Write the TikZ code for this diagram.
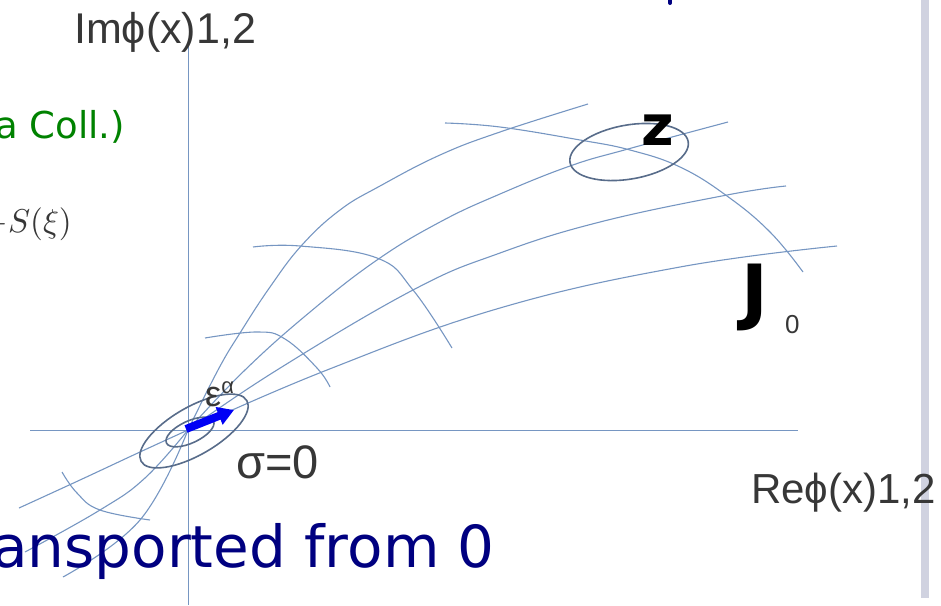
\documentclass[tikz,border=0pt]{standalone}
\usepackage{amsmath,amssymb}
\usepackage{graphicx}
\usepackage{fontspec}
\usepackage{tikz}
\usetikzlibrary{calc}
\usetikzlibrary{arrows.meta}

\newfontfamily\axisfont{Liberation Sans}
\newfontfamily\comicfont{DejaVu Sans}

\definecolor{flowblue}{RGB}{118,150,194}
\definecolor{ringgray}{RGB}{88,108,138}
\definecolor{labelgray}{RGB}{55,55,55}
\definecolor{collgreen}{RGB}{0,130,0}
\definecolor{titlenavy}{RGB}{0,0,128}
\definecolor{arrowblue}{RGB}{0,0,245}
\definecolor{edgebar}{RGB}{208,210,224}

\begin{document}
\begin{tikzpicture}[x = 1pt, y = -1pt]

\tikzstyle{flow}=[color=flowblue, line width = 1.1pt]
\tikzstyle{axis_line}=[color=flowblue, line width = 1pt]
\tikzstyle{ring}=[color=ringgray, line width = 1.6pt]
\tikzstyle{axis_label}=[inner sep = 0pt, text=labelgray]
\tikzstyle{hand_label}=[inner sep = 0pt, text=black, font=\comicfont\bfseries]

\useasboundingbox (0, 0) rectangle (941, 605);
\clip (0, 0) rectangle (941, 605);

\coordinate (O) at (188, 430);
\coordinate (re0) at (30, 430);
\coordinate (re1) at (798, 430);
\coordinate (im0) at (188, 40);
\coordinate (im1) at (188, 605);
\coordinate (outer) at (194, 431);
\coordinate (inner) at (190, 432);
\coordinate (zc) at (629, 152);
\coordinate (eps0) at (186, 429);
\coordinate (eps1) at (234, 410);

%axes
\draw[axis_line] (re0) -- (re1);
\draw[axis_line] (im0) -- (im1);

%flow lines, upper right
\draw[flow] plot[smooth, tension = 0.7] coordinates {(188,430) (218,370) (240,333) (270,287) (302,245) (340,210) (380,186) (440,155) (500,132) (588,104)};
\draw[flow] plot[smooth, tension = 0.7] coordinates {(188,430) (245,370) (310,312) (377,260) (440,222) (500,194) (570,166) (628,149) (728,122)};
\draw[flow] plot[smooth, tension = 0.7] coordinates {(188,430) (277,370) (413,290) (500,253) (600,222) (727,195) (786,186)};
\draw[flow] plot[smooth, tension = 0.7] coordinates {(188,430) (327,370) (500,308) (680,267) (837,246)};

%flow lines, lower left
\draw[flow] plot[smooth, tension = 0.7] coordinates {(188,430) (140,452) (80,480) (19,508)};
\draw[flow] plot[smooth, tension = 0.7] coordinates {(188,430) (145,478) (100,510) (25,552)};
\draw[flow] plot[smooth, tension = 0.7] coordinates {(188,430) (140,520) (63,577)};

%cross arcs
\draw[flow] plot[smooth, tension = 0.7] coordinates {(205,338) (257,332) (285,339) (317,368) (330,387)};
\draw[flow] plot[smooth, tension = 0.7] coordinates {(253,247) (300,246) (377,258) (413,290) (452,348)};
\draw[flow] plot[smooth, tension = 0.7] coordinates {(445,123) (500,127) (580,140) (630,150) (680,167) (727,196) (770,232) (803,272)};
\draw[flow] plot[smooth, tension = 0.7] coordinates {(62,472) (77,493) (100,510) (150,520)};

%rings
\draw[ring, rotate around = {30:(outer)}] (outer) ellipse [x radius = 61pt, y radius = 24pt];
\draw[ring, rotate around = {25:(inner)}] (inner) ellipse [x radius = 26pt, y radius = 11pt];
\draw[ring, rotate around = {10:(zc)}] (zc) ellipse [x radius = 60pt, y radius = 27pt];

%arrow
\draw[-{Triangle[length = 16pt, width = 18pt]}, line width = 8pt, color = arrowblue] (eps0) -- (eps1);

%slide remains
\fill[edgebar] (921, 0) rectangle (929, 598);
\draw[titlenavy, line width = 4pt, line cap = round] (670, -6) -- (670, 3);

\path
(74, 43) node[axis_label, anchor = base west, font = \axisfont\fontsize{43}{45}\selectfont] (imlabel) {Imϕ(x)1,2}
(751, 503) node[axis_label, anchor = base west, font = \axisfont\fontsize{42}{44}\selectfont] (relabel) {Reϕ(x)1,2}
(236, 478) node[axis_label, anchor = base west, font = \axisfont\fontsize{47}{49}\selectfont] (sigma) {σ=0}
(205, 406) node[axis_label, anchor = base west, font = \axisfont\fontsize{36}{38}\selectfont] (eps) {ε\raisebox{13pt}{\fontsize{22}{24}\selectfont α}}
(641, 145) node[hand_label, anchor = base west, font = \comicfont\bfseries\fontsize{56}{58}\selectfont] (zlabel) {z}
(741, 316) node[hand_label, anchor = base west, font = \comicfont\bfseries\fontsize{72}{74}\selectfont] (Jlabel) {J}
(785, 333) node[axis_label, anchor = base west, font = \axisfont\fontsize{26}{28}\selectfont] (Jsub) {0};

\path
(125, 138) node[inner sep = 0pt, anchor = base east, text = collgreen, font = \comicfont\fontsize{37}{39}\selectfont] (coll) {a Coll.)}
(72, 232) node[inner sep = 0pt, anchor = base east, text = labelgray] (action) {\scalebox{3.3}{$-S(\xi)$}}
(495, 567) node[inner sep = 0pt, anchor = base east, text = titlenavy, font = \comicfont\fontsize{58}{60}\selectfont] (transp) {ansported from 0};

\end{tikzpicture}
\end{document}
